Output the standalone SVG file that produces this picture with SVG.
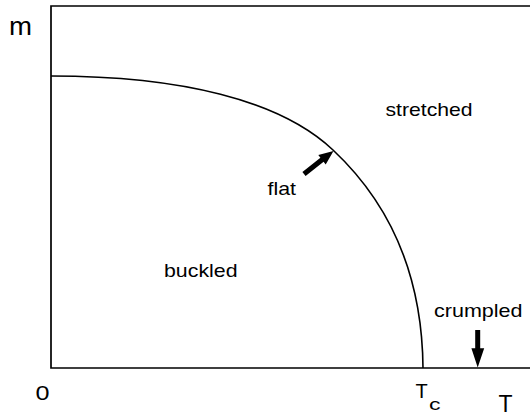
<svg xmlns="http://www.w3.org/2000/svg" width="530" height="417" viewBox="0 0 530 417">
<style>
.ax{fill:none;stroke:#000;stroke-width:1.7}
.cv{fill:none;stroke:#000;stroke-width:1.6}
.lbl{font-family:"Liberation Sans",Arial,Helvetica,sans-serif;font-size:18.5px;fill:#000}
.axl{font-family:"Liberation Sans",Arial,Helvetica,sans-serif;fill:#000}
.arr{fill:#000;stroke:none}
</style>
<rect width="530" height="417" fill="#fff"/>
<g id="axes">
<path class="ax" d="M530,6 H51 V368 H530"/>
</g>
<g id="curve">
<path class="cv" d="M51,76 C180,76 280,100 333,150 C365,180 422,245 423,368"/>
</g>
<g id="axis-labels">
<text class="axl" x="9" y="35" font-size="25" textLength="23" lengthAdjust="spacingAndGlyphs">m</text>
<text class="axl" x="35.5" y="400" font-size="21" textLength="14" lengthAdjust="spacingAndGlyphs">0</text>
<text class="axl" x="415.5" y="398.3" font-size="20">T</text>
<text class="axl" x="429" y="410" font-size="16" textLength="11.5" lengthAdjust="spacingAndGlyphs">c</text>
<text class="axl" x="498.5" y="411.7" font-size="23">T</text>
</g>
<g id="stretched"><text class="lbl" x="385.5" y="116" textLength="87" lengthAdjust="spacingAndGlyphs">stretched</text></g>
<g id="buckled"><text class="lbl" x="164" y="277" textLength="73.5" lengthAdjust="spacingAndGlyphs">buckled</text></g>
<g id="flat"><text class="lbl" x="267.5" y="195" textLength="28.5" lengthAdjust="spacingAndGlyphs">flat</text></g>
<g id="crumpled"><text class="lbl" x="434" y="316.7" textLength="88.5" lengthAdjust="spacingAndGlyphs">crumpled</text></g>
<g id="connectors">
<polygon class="arr" points="302.4,172 320.4,157.7 318.3,155 333.5,151 325.7,164.4 323.6,161.7 305.6,176"/>
<polygon class="arr" points="475.2,330 480.2,330 480.2,348.3 484.2,348.3 477.7,367.5 471.4,348.3 475.2,348.3"/>
</g>
</svg>
